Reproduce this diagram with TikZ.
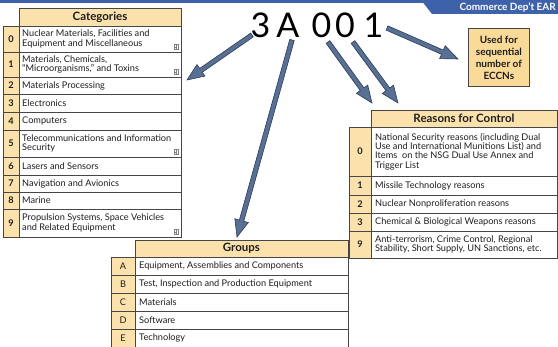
\documentclass[tikz,border=0pt]{standalone}
\usepackage{fontspec}
\setmainfont{Lato}
\usetikzlibrary{calc}
\definecolor{tanfill}{RGB}{251,226,172}
\definecolor{boxfill}{RGB}{250,218,152}
\definecolor{linegray}{RGB}{70,70,70}
\definecolor{arrowfill}{RGB}{88,112,148}
\definecolor{arrowline}{RGB}{45,60,85}
\definecolor{bannerblue}{RGB}{62,98,170}
\definecolor{textdark}{RGB}{30,30,30}
\newcommand\cellfont{\fontsize{9.2}{9.4}\selectfont}
\newcommand\blkarrow[2]{%
  \coordinate (hb) at ($(#2)!17pt!(#1)$);
  \draw[blockarrow] ($(#1)!2.3pt!90:(#2)$) -- ($(hb)!2.3pt!90:(#2)$) -- ($(hb)!7pt!90:(#2)$) -- (#2)
     -- ($(hb)!7pt!-90:(#2)$) -- ($(hb)!2.3pt!-90:(#2)$) -- ($(#1)!2.3pt!-90:(#2)$) -- cycle;}
\begin{document}
\begin{tikzpicture}[x=1pt,y=-1pt,
  tline/.style={draw=linegray, line width=0.7pt},
  numcell/.style={tline, fill=tanfill, anchor=north west, inner sep=0pt, outer sep=0pt,
     font=\cellfont\bfseries, text=textdark},
  txtcell/.style={tline, fill=white, anchor=north west, inner sep=0pt, outer sep=0pt},
  celltext/.style={anchor=west, inner sep=0pt, align=left, font=\cellfont, text=textdark},
  hdr/.style={tline, fill=tanfill, anchor=north west, inner sep=0pt, outer sep=0pt,
     font=\fontsize{11.5}{12}\selectfont\bfseries, text=textdark},
  bigchar/.style={inner sep=0pt, font=\fontsize{34}{34}\selectfont, text=black},
  plusicon/.style={draw=gray, line width=0.4pt, minimum size=4.6pt, inner sep=0pt,
     path picture={\draw[gray, line width=0.4pt]
       ($(path picture bounding box.north)+(0,-1)$) -- ($(path picture bounding box.south)+(0,1)$)
       ($(path picture bounding box.west)+(1,0)$) -- ($(path picture bounding box.east)+(-1,0)$);}},
  blockarrow/.style={fill=arrowfill, draw=arrowline, line width=0.6pt, line join=miter},
  usedbox/.style={tline, fill=boxfill, anchor=north west, inner sep=0pt, align=center,
     font=\fontsize{10}{12}\selectfont\bfseries, text=textdark}
]
\useasboundingbox (0,0) rectangle (558,347);
% banner
\fill[bannerblue] (0,0) rectangle (558,3);
\fill[bannerblue] (421,0) -- (432,14) -- (558,14) -- (558,0) -- cycle;
\node[text=white, font=\fontsize{10}{10}\selectfont\bfseries, anchor=east, inner sep=0pt] (banner) at (556,7.5) {Commerce Dep't EAR};

% Categories table
\node[hdr, minimum width=162pt, minimum height=18pt] (cathdr) at (19,8) {Categories};
\foreach \nm/\t/\h/\n/\txt in {
  c0/26/26/0/{Nuclear Materials, Facilities and\\Equipment and Miscellaneous},
  c1/52/25/1/{Materials, Chemicals,\\“Microorganisms,” and Toxins},
  c2/77/17/2/{Materials Processing},
  c3/94/18/3/{Electronics},
  c4/112/18/4/{Computers},
  c5/130/27/5/{Telecommunications and Information\\Security},
  c6/157/18/6/{Lasers and Sensors},
  c7/175/17/7/{Navigation and Avionics},
  c8/192/17/8/{Marine},
  c9/209/28/9/{Propulsion Systems, Space Vehicles\\and Related Equipment}}
{
  \node[numcell, minimum width=16pt, minimum height=\h] (\nm n) at (3,\t) {\n};
  \node[txtcell, minimum width=162pt, minimum height=\h] (\nm t) at (19,\t) {};
  \node[celltext] (\nm x) at ($(\nm t.west)+(3,0)$) {\txt};
}
\foreach \nm in {c0,c1,c5,c9}
  \node[plusicon] (\nm p) at ($(\nm t.south east)+(-5,-5)$) {};

% Groups table
\node[hdr, minimum width=213pt, minimum height=17pt] (grphdr) at (135,240) {Groups};
\foreach \nm/\t/\n/\txt in {
  gA/257/A/{Equipment, Assemblies and Components},
  gB/275/B/{Test, Inspection and Production Equipment},
  gC/293/C/{Materials},
  gD/311/D/{Software},
  gE/329/E/{Technology}}
{
  \node[numcell, font=\cellfont, minimum width=24pt, minimum height=18pt] (\nm n) at (111,\t) {\n};
  \node[txtcell, minimum width=213pt, minimum height=18pt] (\nm t) at (135,\t) {};
  \node[celltext] (\nm x) at ($(\nm t.west)+(4,0)$) {\txt};
}

% Reasons for Control table
\node[hdr, minimum width=186pt, minimum height=17pt] (reahdr) at (371,110) {Reasons for Control};
\foreach \nm/\t/\h/\n/\txt in {
  r0/127/49/0/{National Security reasons (including Dual\\Use and International Munitions List) and\\Items \ on the NSG Dual Use Annex and\\Trigger List},
  r1/176/19/1/{Missile Technology reasons},
  r2/195/18/2/{Nuclear Nonproliferation reasons},
  r3/213/18/3/{Chemical \& Biological Weapons reasons},
  r9/231/27/9/{Anti-terrorism, Crime Control, Regional\\Stability, Short Supply, UN Sanctions, etc.}}
{
  \node[numcell, minimum width=22pt, minimum height=\h] (\nm n) at (349,\t) {\n};
  \node[txtcell, minimum width=186pt, minimum height=\h] (\nm t) at (371,\t) {};
  \node[celltext] (\nm x) at ($(\nm t.west)+(4,0)$) {\txt};
}

% Used-for box
\node[usedbox, minimum width=61pt, minimum height=58pt] (used) at (468,28) {Used for\\sequential\\number of\\ECCNs};

% ECCN characters
\node[bigchar] (k3) at (260.5,25) {3};
\node[bigchar] (kA) at (288,25) {A};
\node[bigchar] (k0a) at (321.5,25) {0};
\node[bigchar] (k0b) at (345,25) {0};
\node[bigchar] (k1) at (373.5,25) {1};

% arrow end points
\coordinate (s1) at (252,35);  \coordinate (e1) at (187,80);
\coordinate (s2) at (292,40);  \coordinate (e2) at (237,237);
\coordinate (s3) at (328,42);  \coordinate (e3) at (372,103);
\coordinate (s4) at (353,42);  \coordinate (e4) at (398,103);
\coordinate (s5) at (387,28);  \coordinate (e5) at (458,59);
\blkarrow{s1}{e1}
\blkarrow{s2}{e2}
\blkarrow{s3}{e3}
\blkarrow{s4}{e4}
\blkarrow{s5}{e5}
\end{tikzpicture}
\end{document}
